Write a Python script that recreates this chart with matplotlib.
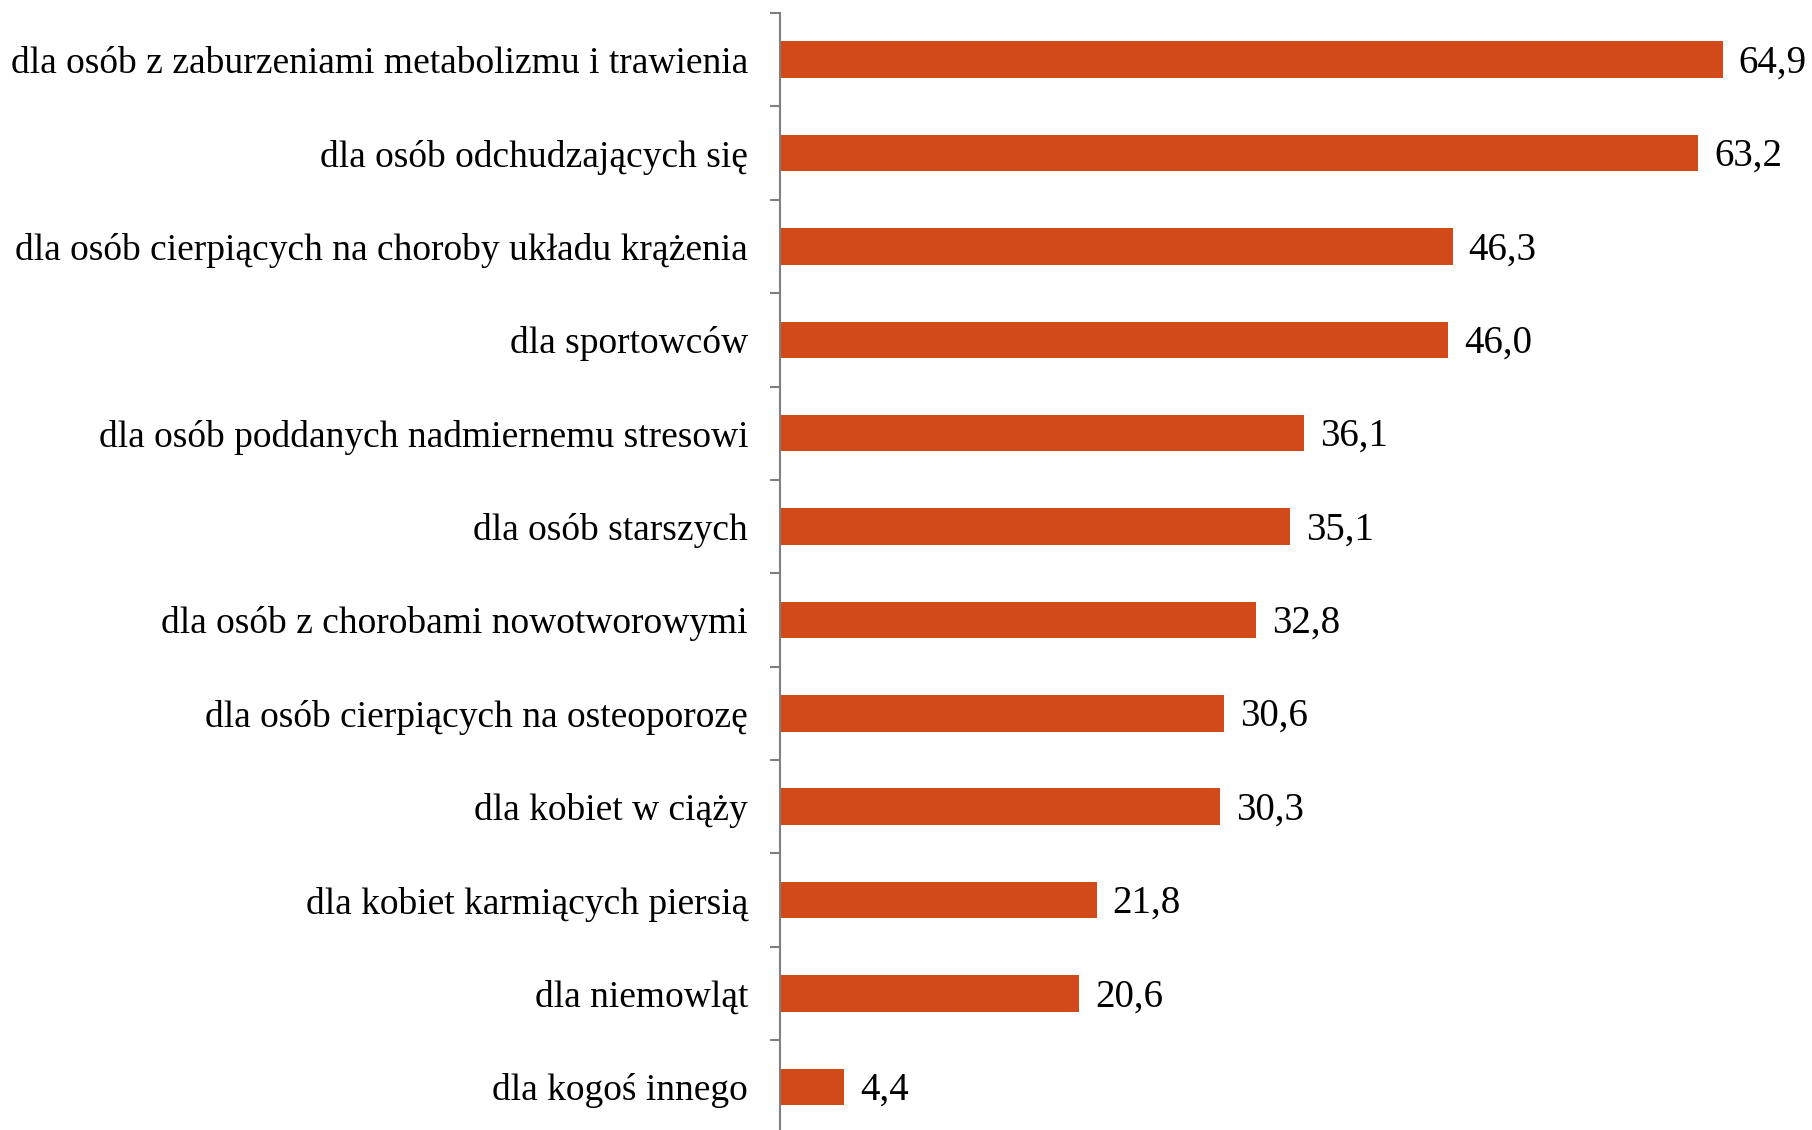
import matplotlib
matplotlib.use("Agg")
import matplotlib.pyplot as plt
import numpy as np

categories = [
    "dla osób z zaburzeniami metabolizmu i trawienia",
    "dla osób odchudzających się",
    "dla osób cierpiących na choroby układu krążenia",
    "dla sportowców",
    "dla osób poddanych nadmiernemu stresowi",
    "dla osób starszych",
    "dla osób z chorobami nowotworowymi",
    "dla osób cierpiących na osteoporozę",
    "dla kobiet w ciąży",
    "dla kobiet karmiących piersią",
    "dla niemowląt",
    "dla kogoś innego",
]
values = [64.9, 63.2, 46.3, 46.0, 36.1, 35.1, 32.8, 30.6, 30.3, 21.8, 20.6, 4.4]

W, H = 1812, 1130
fig = plt.figure(figsize=(W / 100, H / 100), dpi=100)
ax_left = 780 / W
ax_top = 1 - 13 / H
ax_bottom = 1 - 1133.5 / H
ax = fig.add_axes([ax_left, ax_bottom, 1 - ax_left, ax_top - ax_bottom])

n = len(categories)
y = np.arange(n)
ax.barh(y, values, height=0.39, color="#D34A1A", zorder=2)
ax.set_ylim(n - 0.5, -0.5)
ax.set_xlim(0, 71.05)

for yi, v in zip(y, values):
    ax.text(v + 1.1, yi + 0.035, f"{v:.1f}".replace(".", ","), va="center", ha="left",
            fontsize=28, family="Liberation Serif", color="#000000")

ax.set_yticks(y)
ax.set_yticklabels(categories, fontsize=27, family="Liberation Serif")
ax.tick_params(axis="y", which="major", length=0, pad=23)
ax.set_yticks(np.arange(-0.5, n, 1.0), minor=True)
ax.tick_params(axis="y", which="minor", length=7.5, width=1.5, color="#808080", direction="out")
ax.set_xticks([])
for s in ["top", "right", "bottom"]:
    ax.spines[s].set_visible(False)
ax.spines["left"].set_color("#808080")
ax.spines["left"].set_linewidth(1.5)

fig.savefig("out.png", dpi=100)
